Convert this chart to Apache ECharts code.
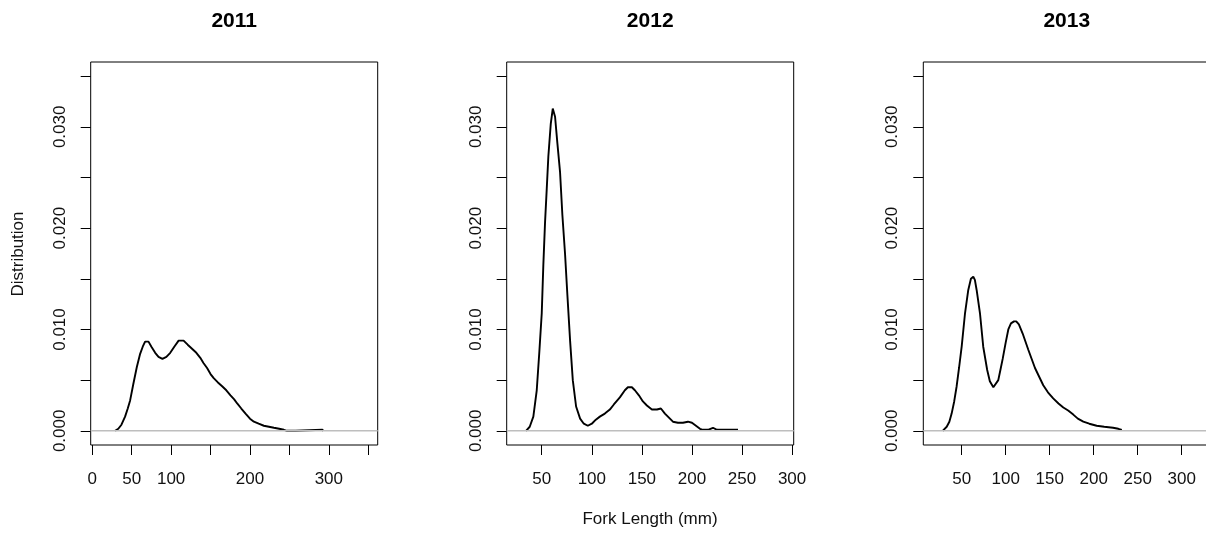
<!DOCTYPE html>
<html>
<head>
<meta charset="utf-8">
<title>Fork length distribution</title>
<script src="https://cdn.jsdelivr.net/npm/echarts@6/dist/echarts.min.js"></script>
<style>
  html, body { margin: 0; padding: 0; background: #fff; }
  #chart { width: 1206px; height: 534px; }
</style>
</head>
<body>
<div id="chart"></div>
<script>
// panel titles
var years = ["2011", "2012", "2013"];

// density curves (fork length mm -> density)
var len2011 = [29, 33, 37, 41.6, 45, 48, 52, 56.5, 60.7, 64, 67, 69.5, 71.3, 75, 79.8, 84, 89, 94, 98.9, 104,
  109.5, 115.8, 121, 126.5, 132, 137, 141, 145.6, 150, 154, 159, 164.7, 170, 175.3, 180, 183.8, 189, 194.4,
  200, 205, 211, 217.6, 224, 230.4, 237, 243, 247, 258, 260, 292, 293];
var dens2011 = [0.0000, 0.0002, 0.0006, 0.0014, 0.0022, 0.0030, 0.0046, 0.0063, 0.0076, 0.0083, 0.0088, 0.0089,
  0.0088, 0.0083, 0.0077, 0.0073, 0.0071, 0.0073, 0.0077, 0.0083, 0.0089, 0.0089, 0.0085, 0.0081, 0.0077,
  0.0072, 0.0067, 0.0062, 0.0056, 0.0052, 0.0048, 0.0044, 0.0040, 0.0035, 0.0031, 0.0027, 0.0022, 0.0017,
  0.0012, 0.0009, 0.0007, 0.0005, 0.0004, 0.0003, 0.0002, 0.0001, 0.0000, 0.0000, 0.0001, 0.0001, 0.0000];

var len2012 = [34.3, 38, 41.6, 45, 47.6, 50, 51.6, 53.3, 55, 56.6, 59, 61, 63.3, 65.6, 68.3, 70.6, 73.3, 75.6,
  78.3, 81, 84.3, 88.3, 92, 96, 100, 104, 108, 113, 118, 122, 128, 133, 136, 140, 143, 147, 151, 155, 160,
  165, 169, 173, 177, 181, 186, 191, 196, 200, 204, 208, 211, 216, 221, 225, 235, 246];
var dens2012 = [0.0000, 0.0004, 0.0014, 0.0040, 0.0078, 0.0116, 0.0164, 0.0206, 0.0239, 0.0271, 0.0303, 0.0318,
  0.0310, 0.0284, 0.0255, 0.0213, 0.0174, 0.0134, 0.0089, 0.0050, 0.0024, 0.0012, 0.0007, 0.0005, 0.0007,
  0.0011, 0.0014, 0.0017, 0.0021, 0.0026, 0.0033, 0.0040, 0.0043, 0.0043, 0.0040, 0.0035, 0.0029, 0.0025,
  0.0021, 0.0021, 0.0022, 0.0017, 0.0013, 0.0009, 0.0008, 0.0008, 0.0009, 0.0008, 0.0005, 0.0002, 0.0001,
  0.0001, 0.0003, 0.0001, 0.0001, 0.0001];

var len2013 = [28.4, 30, 33, 36, 38.6, 41.5, 44.3, 47, 50, 53.8, 57.5, 60.5, 63.2, 65, 67, 70.8, 74.5, 79, 82,
  86, 88, 91.6, 94, 96.6, 100, 103, 106, 109.5, 112, 115, 119.3, 125.7, 133.3, 142.7, 148, 154, 160, 165.5,
  171, 176.8, 182, 188.2, 195, 203.4, 212, 222, 228, 232];
var dens2013 = [0.0000, 0.0001, 0.0004, 0.0009, 0.0017, 0.0029, 0.0044, 0.0062, 0.0083, 0.0116, 0.0139, 0.0150,
  0.0152, 0.0149, 0.0139, 0.0116, 0.0083, 0.0060, 0.0049, 0.0043, 0.0044, 0.0050, 0.0060, 0.0071, 0.0087,
  0.0100, 0.0106, 0.0108, 0.0108, 0.0105, 0.0096, 0.0080, 0.0062, 0.0045, 0.0038, 0.0032, 0.0027, 0.0023,
  0.0020, 0.0016, 0.0012, 0.0009, 0.0007, 0.0005, 0.0004, 0.0003, 0.0002, 0.0001];

// axis ranges and ticks
var xMin = [-2, 15, 6.4];
var xMax = [362, 301.6, 332.5];
var xTicks = [
  [0, 50, 100, 150, 200, 250, 300, 350],
  [50, 100, 150, 200, 250, 300],
  [50, 100, 150, 200, 250, 300]
];
var xLabels = [
  [0, 50, 100, 200, 300],
  [50, 100, 150, 200, 250, 300],
  [50, 100, 150, 200, 250, 300]
];
var yMin = -0.0014;
var yMax = 0.0364;
var yTicks = [0, 0.005, 0.01, 0.015, 0.02, 0.025, 0.03, 0.035];
var yLabels = [0, 0.01, 0.02, 0.03];

var lens = [len2011, len2012, len2013];
var dens = [dens2011, dens2012, dens2013];

var FONT = "Liberation Sans, Arial, sans-serif";
var gridLeft = [90.7, 506.7, 923.3];
var boxW = 287;

function pairs(xs, ys) {
  var out = [];
  for (var i = 0; i < xs.length; i++) out.push([xs[i], ys[i]]);
  return out;
}

var grids = [], xAxes = [], yAxes = [], series = [], graphics = [];

for (var i = 0; i < 3; i++) {
  grids.push({
    left: gridLeft[i], top: 62, width: boxW, height: 383,
    show: true, borderColor: "#000", borderWidth: 1, backgroundColor: "transparent",
    outerBoundsMode: "none"
  });
  xAxes.push({
    gridIndex: i, type: "value", min: xMin[i], max: xMax[i],
    axisLine: { show: false, onZero: false },
    splitLine: { show: false },
    axisTick: { show: true, length: 10, customValues: xTicks[i], lineStyle: { color: "#000", width: 1 } },
    axisLabel: { customValues: xLabels[i], margin: 26, fontSize: 17, color: "#111", fontFamily: FONT }
  });
  yAxes.push({
    gridIndex: i, type: "value", min: yMin, max: yMax,
    axisLine: { show: false, onZero: false },
    splitLine: { show: false },
    axisTick: { show: true, length: 10, customValues: yTicks, lineStyle: { color: "#000", width: 1 } },
    axisLabel: {
      customValues: yLabels, rotate: 90, margin: 22, fontSize: 17, color: "#111", fontFamily: FONT,
      formatter: function (v) { return Number(v).toFixed(3); }
    }
  });
  series.push({
    type: "line", xAxisIndex: i, yAxisIndex: i,
    data: pairs(lens[i], dens[i]),
    symbol: "none", smooth: false, z: 2,
    lineStyle: { color: "#000", width: 1.9 }
  });
  // zero reference line, drawn over the curve
  series.push({
    type: "line", xAxisIndex: i, yAxisIndex: i,
    data: [[xMin[i], 0], [xMax[i], 0]],
    symbol: "none", z: 3, silent: true,
    lineStyle: { color: "#bebebe", width: 1.5 }
  });
  graphics.push({
    type: "text", x: gridLeft[i] + boxW / 2, y: 21,
    style: { text: years[i], font: "bold 21px " + FONT, fill: "#000",
      align: "center", verticalAlign: "middle", textAlign: "center", textVerticalAlign: "middle" }
  });
}

graphics.push({
  type: "text", x: 18.5, y: 254, rotation: Math.PI / 2,
  style: { text: "Distribution", font: "17px " + FONT, fill: "#111",
    align: "center", verticalAlign: "middle", textAlign: "center", textVerticalAlign: "middle" }
});
graphics.push({
  type: "text", x: 650, y: 519,
  style: { text: "Fork Length (mm)", font: "17px " + FONT, fill: "#111",
    align: "center", verticalAlign: "middle", textAlign: "center", textVerticalAlign: "middle" }
});

var chart = echarts.init(document.getElementById("chart"), null, { renderer: "canvas" });
chart.setOption({
  animation: false,
  backgroundColor: "#fff",
  grid: grids,
  xAxis: xAxes,
  yAxis: yAxes,
  series: series,
  graphic: graphics
});
</script>
</body>
</html>
